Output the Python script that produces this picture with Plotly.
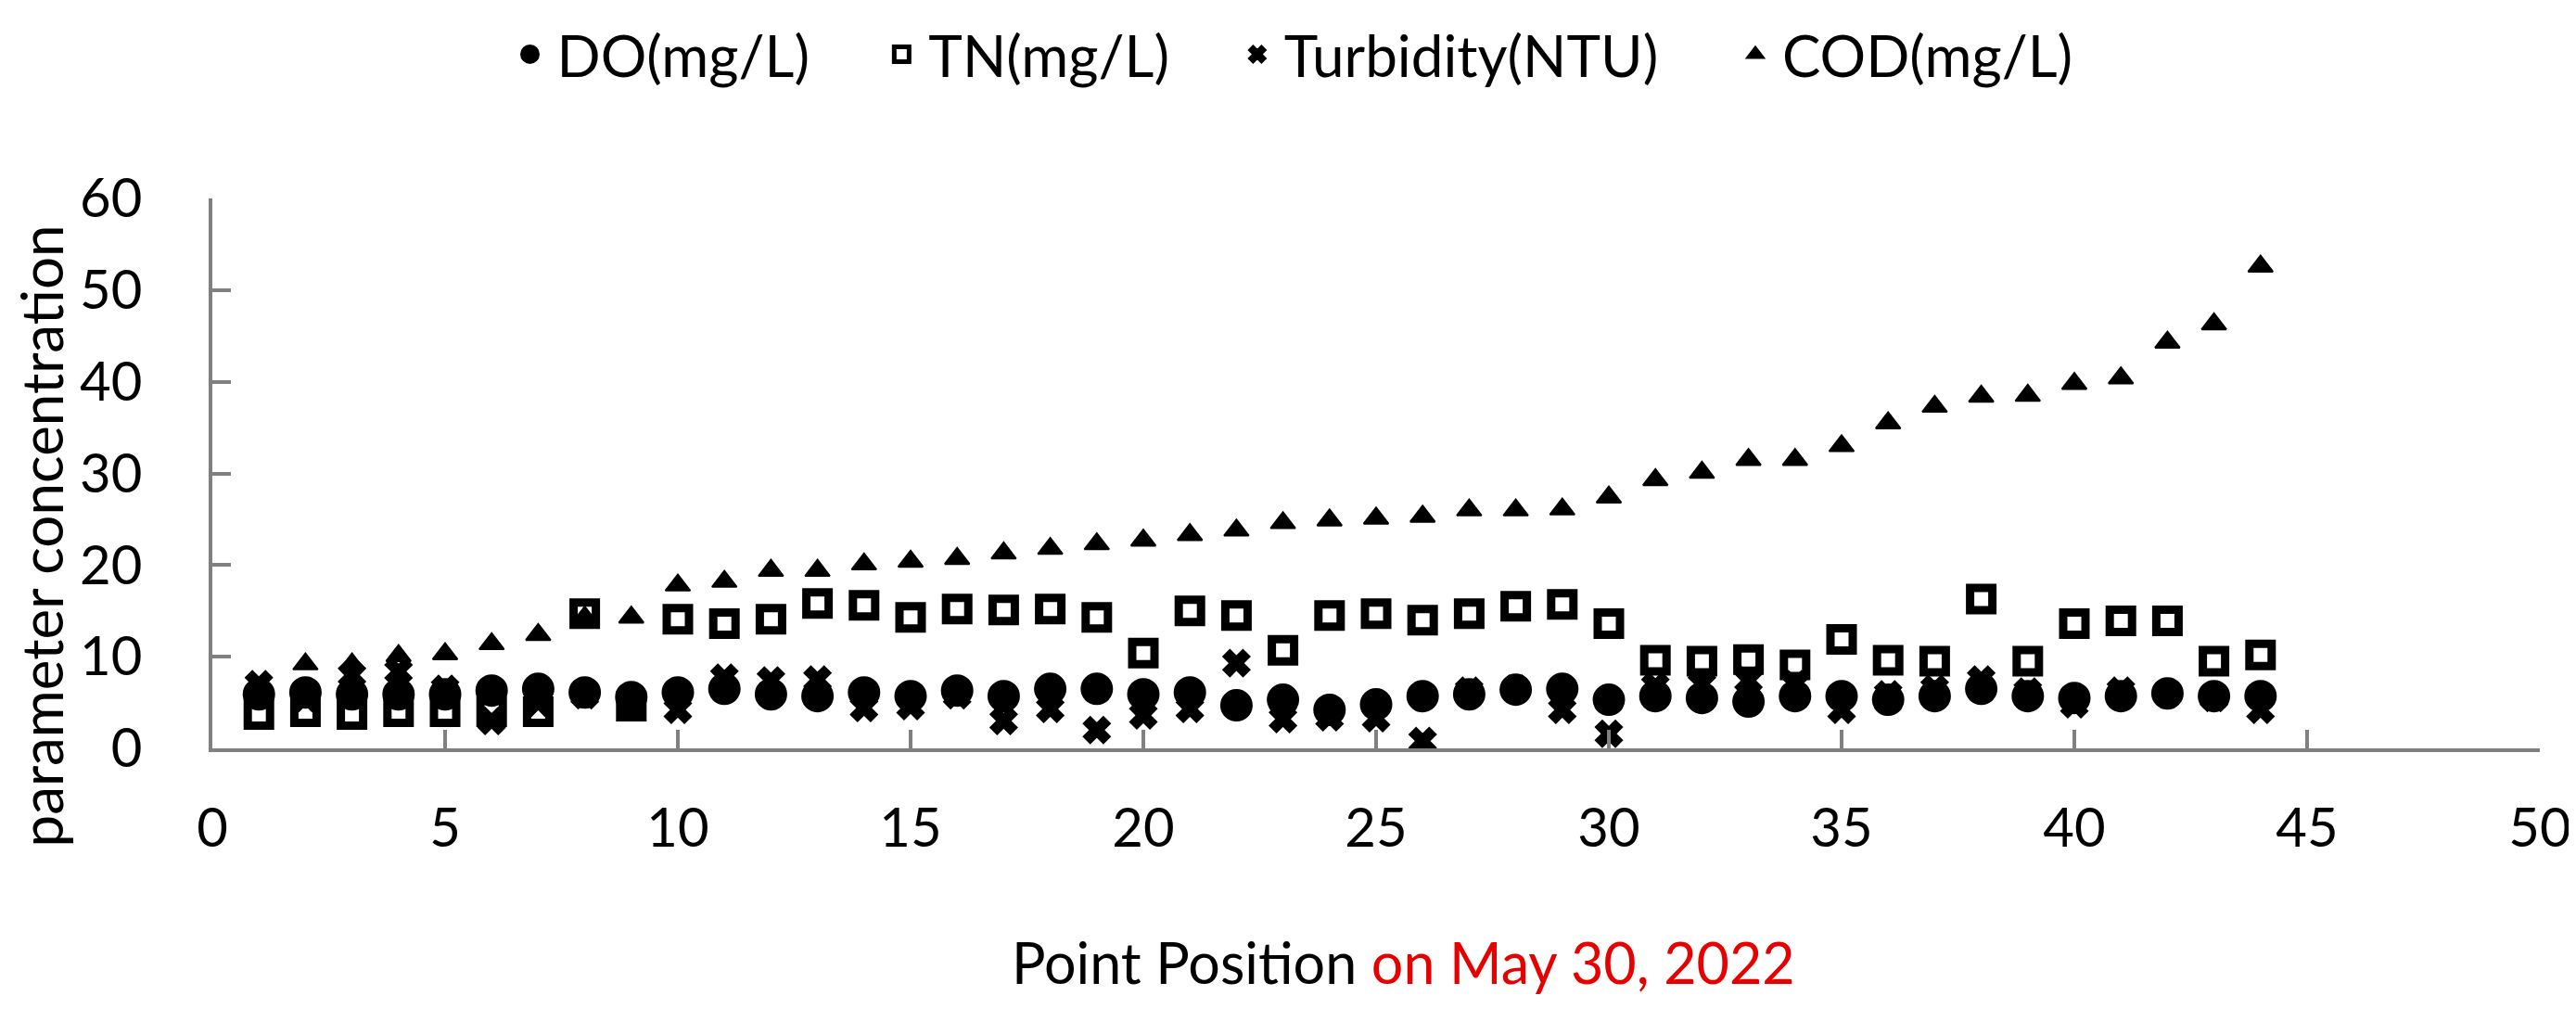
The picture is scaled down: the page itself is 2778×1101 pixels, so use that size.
'''
    Scatter chart of water quality parameters along the sampling points
'''

import plotly.graph_objects as go

point_position = [1, 2, 3, 4, 5, 6, 7, 8, 9, 10, 11, 12, 13, 14, 15, 16, 17, 18, 19, 20, 21, 22,
                  23, 24, 25, 26, 27, 28, 29, 30, 31, 32, 33, 34, 35, 36, 37, 38, 39, 40, 41, 42, 43, 44]

do_values = [5.9, 6.1, 5.9, 5.9, 5.9, 6.3, 6.5, 6.1, 5.6, 6.1, 6.5, 5.9, 5.7, 6.1, 5.7, 6.3,
             5.7, 6.5, 6.5, 5.9, 6.1, 4.7, 5.3, 4.2, 4.8, 5.7, 5.9, 6.4, 6.5, 5.3, 5.7, 5.5,
             5.1, 5.7, 5.7, 5.3, 5.7, 6.5, 5.7, 5.5, 5.7, 6.0, 5.7, 5.7]

tn_values = [3.7, 4.0, 3.7, 4.0, 4.0, 4.0, 4.0, 14.7, 4.6, 14.1, 13.6, 14.1, 15.8, 15.6, 14.3, 15.2,
             15.1, 15.2, 14.3, 10.4, 15.0, 14.5, 10.7, 14.5, 14.7, 14.0, 14.7, 15.5, 15.7, 13.6, 9.6, 9.5,
             9.7, 9.1, 11.9, 9.6, 9.5, 16.3, 9.5, 13.6, 13.9, 13.9, 9.5, 10.2]

turbidity_values = [7.0, 5.5, 8.0, 8.4, 6.5, 3.0, 5.0, 5.8, 4.8, 4.2, 7.7, 7.4, 7.5, 4.4, 4.6, 5.8,
                    3.0, 4.3, 2.0, 3.6, 4.3, 9.3, 3.2, 3.4, 3.3, 0.8, 6.3, 6.5, 4.2, 1.6, 6.8, 7.0,
                    7.4, 7.0, 4.2, 5.9, 6.5, 7.5, 6.2, 4.8, 6.3, 6.0, 5.5, 4.2]

cod_values = [6.5, 9.2, 9.2, 10.1, 10.3, 11.4, 12.4, 14.3, 14.3, 17.8, 18.2, 19.4, 19.4, 20.1, 20.4, 20.7,
              21.3, 21.8, 22.3, 22.7, 23.3, 23.8, 24.6, 24.9, 25.1, 25.3, 26.0, 26.0, 26.1, 27.4, 29.3, 30.1,
              31.5, 31.5, 33.0, 35.5, 37.3, 38.4, 38.5, 39.8, 40.4, 44.3, 46.3, 52.6]

series_names = ['DO(mg/L)', 'TN(mg/L)', 'Turbidity(NTU)', 'COD(mg/L)']
x_ticks = [0, 5, 10, 15, 20, 25, 30, 35, 40, 45, 50]
y_ticks = [0, 10, 20, 30, 40, 50, 60]

FONT = 'Lato'
AXIS_GREY = '#808080'

fig = go.Figure()

# one trace per parameter, each one gets its own legend so the entries
# can be spread across the top like in the original figure
fig.add_trace(go.Scatter(
    x=point_position, y=do_values, name=series_names[0], mode='markers', legend='legend',
    marker=dict(symbol='circle', size=30, color='black', line=dict(width=5, color='black')),
))
fig.add_trace(go.Scatter(
    x=point_position, y=tn_values, name=series_names[1], mode='markers', legend='legend2',
    marker=dict(symbol='square-open', size=24, color='black', line=dict(width=9, color='black')),
))
fig.add_trace(go.Scatter(
    x=point_position, y=turbidity_values, name=series_names[2], mode='markers', legend='legend3',
    marker=dict(symbol='x', size=25, color='black', line=dict(width=2, color='black')),
))
fig.add_trace(go.Scatter(
    x=point_position, y=cod_values, name=series_names[3], mode='markers', legend='legend4',
    marker=dict(symbol='triangle-up', size=23, color='black', line=dict(width=2, color='black')),
))


def legend_box(x):
    return dict(x=x, y=1.262, xanchor='left', yanchor='middle', orientation='h',
                itemwidth=48, bgcolor='rgba(0,0,0,0)',
                font=dict(family=FONT, size=62, color='black'))


# the page body keeps its 8px default margin, so the figure is shifted
# by that amount and the plot area lands where the original one is
fig.update_layout(
    width=2770,
    height=1085,
    template='simple_white',
    plot_bgcolor='white',
    paper_bgcolor='white',
    margin=dict(l=221, r=39, t=206, b=286, autoexpand=False),
    font=dict(family=FONT, color='black'),
    showlegend=True,
    legend=legend_box(0.1249),
    legend2=legend_box(0.2846),
    legend3=legend_box(0.4374),
    legend4=legend_box(0.6514),
)

fig.update_xaxes(
    range=[0, 50], tickvals=x_ticks, ticktext=[str(v) for v in x_ticks],
    showline=True, linecolor=AXIS_GREY, linewidth=4, mirror=False,
    ticks='inside', ticklen=20, tickwidth=4, tickcolor=AXIS_GREY,
    ticklabelstandoff=32, showgrid=False, zeroline=False,
    tickfont=dict(family=FONT, size=58, color='black'),
)
fig.update_yaxes(
    range=[0, 60], tickvals=y_ticks, ticktext=[str(v) for v in y_ticks],
    showline=True, linecolor=AXIS_GREY, linewidth=4, mirror=False,
    ticks='inside', ticklen=20, tickwidth=4, tickcolor=AXIS_GREY,
    ticklabelstandoff=60, showgrid=False, zeroline=False,
    tickfont=dict(family=FONT, size=58, color='black'),
)

# axis titles as annotations so they sit where the original puts them
fig.add_annotation(
    text='parameter concentration', textangle=-90, showarrow=False,
    xref='paper', yref='paper', x=-0.0735, y=0.386, xanchor='center', yanchor='middle',
    font=dict(family=FONT, size=62, color='black'),
)
fig.add_annotation(
    text="Point Position <span style='color:rgb(230,0,0)'>on May 30, 2022</span>",
    showarrow=False, xref='paper', yref='paper', x=0.5116, y=-0.3895,
    xanchor='center', yanchor='middle',
    font=dict(family=FONT, size=61, color='black'),
)

fig.write_html("out.html")
